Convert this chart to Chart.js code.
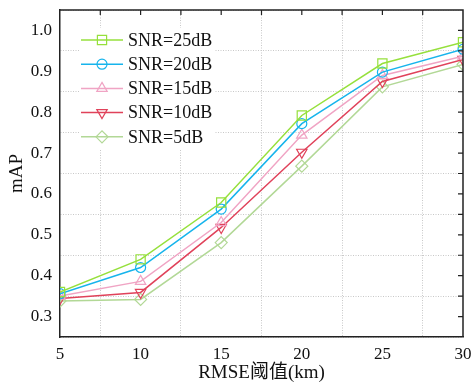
<!DOCTYPE html>
<html>
<head>
<meta charset="utf-8">
<script src="https://cdn.jsdelivr.net/npm/chart.js@4"></script>
<style>
  html, body { margin: 0; padding: 0; background: #fff; }
  #wrap { width: 476px; height: 385px; }
</style>
</head>
<body>
<div id="wrap"><canvas id="c" width="476" height="385"></canvas></div>
<script>
// RMSE thresholds (km)
const thresholds = [5, 10, 15, 20, 25, 30];
const seriesNames = ['SNR=25dB', 'SNR=20dB', 'SNR=15dB', 'SNR=10dB', 'SNR=5dB'];
const snr25 = [0.360, 0.440, 0.579, 0.792, 0.919, 0.971];
const snr20 = [0.356, 0.420, 0.563, 0.772, 0.898, 0.954];
const snr15 = [0.350, 0.386, 0.530, 0.744, 0.890, 0.937];
const snr10 = [0.344, 0.359, 0.518, 0.702, 0.875, 0.929];
const snr5  = [0.338, 0.342, 0.481, 0.668, 0.862, 0.917];

const colors = ['#96e03c', '#16b4ec', '#f0a4c4', '#e0425a', '#b2d896'];
const styles = ['rect', 'circle', 'triangle', 'triangle', 'rectRot'];
const rotations = [0, 0, 0, 180, 0];
const radii = [6.5, 5, 6, 6, 6];

const FONT = "'Liberation Serif', 'Times New Roman', 'Noto Sans CJK SC', serif";

const allSeries = [snr25, snr20, snr15, snr10, snr5];
const datasets = allSeries.map((vals, i) => ({
    label: seriesNames[i],
    data: vals.map((v, j) => ({ x: thresholds[j], y: v })),
    borderColor: colors[i],
    backgroundColor: colors[i],
    borderWidth: 1.5,
    pointStyle: styles[i],
    pointRotation: rotations[i],
    pointRadius: radii[i],
    pointBorderWidth: 1.2,
    pointBackgroundColor: 'rgba(0,0,0,0)',
    pointBorderColor: colors[i],
    tension: 0
}));

// top/right box edges with inward ticks, plus the legend drawn inside the plot
const framePlugin = {
    id: 'frame',
    afterDraw(chart) {
        const { ctx, chartArea: a, scales } = chart;
        ctx.save();
        ctx.strokeStyle = '#222';
        ctx.lineWidth = 1.5;
        ctx.beginPath();
        ctx.moveTo(a.left, a.top);
        ctx.lineTo(a.right, a.top);
        ctx.lineTo(a.right, a.bottom);
        ctx.stroke();

        ctx.lineWidth = 1.2;
        ctx.beginPath();
        for (let v = 7.5; v < 30; v += 2.5) {
            const x = scales.x.getPixelForValue(v);
            ctx.moveTo(x, a.top);
            ctx.lineTo(x, a.top + 5);
        }
        for (let k = 30; k <= 100; k += 5) {
            const y = scales.y.getPixelForValue(k / 100);
            ctx.moveTo(a.right, y);
            ctx.lineTo(a.right - 5, y);
        }
        ctx.stroke();

        // legend
        ctx.fillStyle = '#fff';
        ctx.fillRect(80, 28, 134, 122);
        ctx.font = '18px ' + FONT;
        ctx.textBaseline = 'middle';
        chart.data.datasets.forEach((ds, i) => {
            const y = 40 + i * 24.2;
            ctx.strokeStyle = ds.borderColor;
            ctx.lineWidth = 1.5;
            ctx.beginPath();
            ctx.moveTo(81, y);
            ctx.lineTo(123, y);
            ctx.stroke();
            ctx.lineWidth = 1.2;
            ctx.fillStyle = 'rgba(0,0,0,0)';
            Chart.helpers.drawPoint(ctx, {
                pointStyle: ds.pointStyle,
                rotation: ds.pointRotation,
                radius: ds.pointRadius,
                borderWidth: 1.2
            }, 102, y);
            ctx.fillStyle = '#111';
            ctx.fillText(ds.label, 128, y + 1);
        });
        ctx.restore();
    }
};

new Chart(document.getElementById('c'), {
    type: 'line',
    data: { datasets },
    plugins: [framePlugin],
    options: {
        responsive: false,
        animation: false,
        layout: { padding: { top: 10, right: 13, left: 0, bottom: 0 } },
        plugins: { legend: { display: false }, tooltip: { enabled: false } },
        scales: {
            x: {
                type: 'linear',
                min: 5, max: 30,
                afterFit: s => { s.height = 48; s.paddingLeft = 0; s.paddingRight = 0; },
                ticks: {
                    stepSize: 2.5,
                    autoSkip: false,
                    maxRotation: 0,
                    padding: 7,
                    color: '#111',
                    font: { family: FONT, size: 17 },
                    callback: v => (v % 5 === 0 ? String(v) : '')
                },
                grid: {
                    drawTicks: false,
                    lineWidth: 1,
                    color: c => (c.tick && c.tick.value % 5 !== 0 ? '#c8c8c8' : 'rgba(0,0,0,0)')
                },
                border: { color: '#222', width: 1.5, dash: [1, 1.5] },
                title: {
                    display: true,
                    text: 'RMSE阈值(km)',
                    color: '#111',
                    font: { family: FONT, size: 19 },
                    padding: { top: 0, bottom: 1 }
                }
            },
            y: {
                min: 0.25, max: 1.05,
                afterFit: s => { s.width = 60; s.paddingTop = 0; s.paddingBottom = 0; },
                ticks: {
                    stepSize: 0.05,
                    autoSkip: false,
                    padding: 8,
                    color: '#111',
                    font: { family: FONT, size: 17 },
                    callback: v => {
                        const k = Math.round(v * 100);
                        return k % 10 === 0 ? (k / 100).toFixed(1) : '';
                    }
                },
                grid: {
                    drawTicks: false,
                    lineWidth: 1,
                    color: c => (c.tick && Math.round(c.tick.value * 100) % 10 !== 0 ? '#c8c8c8' : 'rgba(0,0,0,0)')
                },
                border: { color: '#222', width: 1.5, dash: [1, 1.5] },
                title: {
                    display: true,
                    text: 'mAP',
                    color: '#111',
                    font: { family: FONT, size: 19 },
                    padding: { top: 6, bottom: 0 }
                }
            }
        }
    }
});
</script>
</body>
</html>
